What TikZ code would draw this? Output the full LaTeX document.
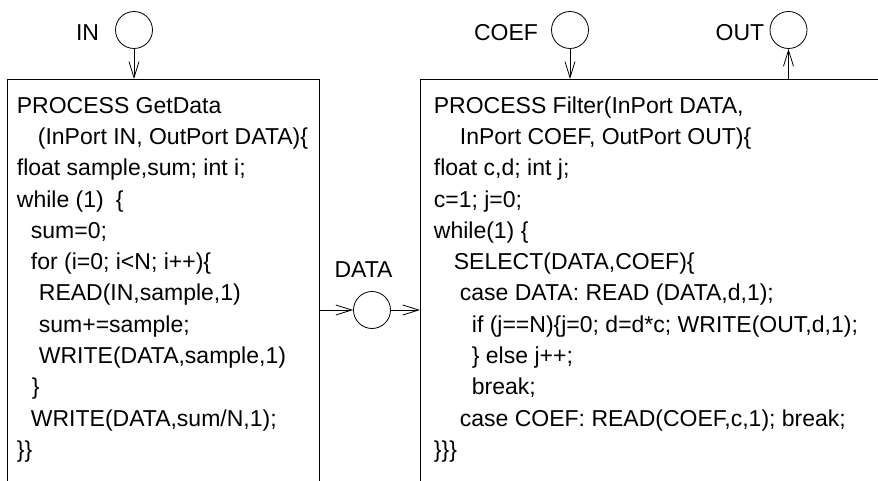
\documentclass[tikz,border=0pt]{standalone}
\usepackage{fontspec}
\setmainfont{Liberation Sans}
\usetikzlibrary{arrows.meta}

\tikzset{
	port/.style={draw,circle,minimum size=37pt,inner sep=0pt},
	proc/.style={draw,rectangle,anchor=north west,inner sep=0pt},
	code/.style={font=\fontsize{23}{31.3}\selectfont,align=left,anchor=north west,inner sep=0pt},
	portname/.style={font=\fontsize{23}{27}\selectfont,anchor=base,inner sep=0pt},
	flow/.style={-{Straight Barb[length=16pt,width=10pt]}}
}

\begin{document}
\begin{tikzpicture}[
	x=1pt,y=-1pt,line width=0.8pt
	]
	\useasboundingbox (0,0) rectangle (878,481);
	% process boxes, open at the bottom
	\node[proc,minimum width=312pt,minimum height=430pt]  (getdata) at (7,79)  {};
	\node[proc,minimum width=470pt,minimum height=430pt]  (filter) at (420,79)  {};
	% ports
	\node[port]  (in) at (134,30)  {};
	\node[port]  (coef) at (570,30)  {};
	\node[port]  (out) at (788.5,30)  {};
	\node[port]  (data) at (372,310)  {};
	\node[portname]  (inname) at (87.5,41)  {IN};
	\node[portname]  (coefname) at (506,41)  {COEF};
	\node[portname]  (outname) at (740,41)  {OUT};
	\node[portname]  (dataname) at (363.5,277)  {DATA};
	% process code
	\node[code]  (getdatacode) at (16.5,90.8)  {\strut PROCESS GetData\\
		\hspace*{21pt}(InPort IN, OutPort DATA)\{\\
		float sample,sum; int i;\\
		while (1)\hspace{12pt}\{\\
		\hspace*{14pt}sum=0;\\
		\hspace*{14pt}for (i=0; i<N; i++)\{\\
		\hspace*{22pt}READ(IN,sample,1)\\
		\hspace*{22pt}sum+=sample;\\
		\hspace*{22pt}WRITE(DATA,sample,1)\\
		\hspace*{15pt}\}\\
		\hspace*{14pt}WRITE(DATA,sum/N,1);\\
		\}\}};
	\node[code]  (filtercode) at (433.5,90.8)  {\strut PROCESS Filter(InPort DATA,\\
		\hspace*{26pt}InPort COEF, OutPort OUT)\{\\
		float c,d; int j;\\
		c=1; j=0;\\
		while(1) \{\\
		\hspace*{20pt}SELECT(DATA,COEF)\{\\
		\hspace*{26pt}case DATA: READ (DATA,d,1);\\
		\hspace*{38pt}if (j==N)\{j=0; d=d*c; WRITE(OUT,d,1);\\
		\hspace*{38pt}\} else j++;\\
		\hspace*{38pt}break;\\
		\hspace*{26pt}case COEF: READ(COEF,c,1); break;\\
		\}\}\}};
	% channels
	\path[draw,flow]  (in) -- (in |- getdata.north);
	\path[draw,flow]  (coef) -- (coef |- filter.north);
	\path[draw,flow]  (out |- filter.north) -- (out);
	\path[draw,flow]  (getdata.east |- data) -- (data);
	\path[draw,flow]  (data) -- (data -| filter.west);
\end{tikzpicture}
\end{document}
